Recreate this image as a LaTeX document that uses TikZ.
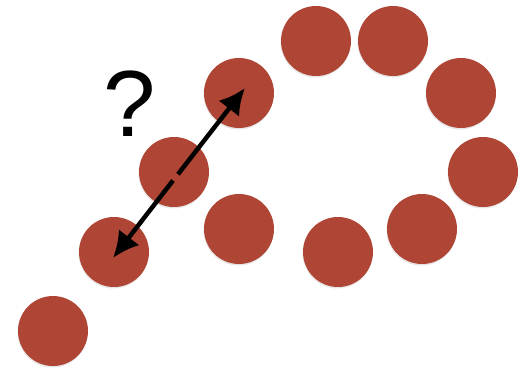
\documentclass[tikz,border=0pt]{standalone}
\usepackage{fontspec}
\setmainfont{Liberation Sans}
\usetikzlibrary{positioning, arrows.meta, shadows}
\definecolor{beadred}{HTML}{AF4534}

\begin{document}
\begin{tikzpicture}[x=1pt,y=-1pt,
    bead/.style={circle, fill=beadred, minimum size=70pt, inner sep=0pt,
      drop shadow={shadow xshift=-0.5pt, shadow yshift=-1.5pt, opacity=0.2}},
    jump/.style={-{Latex[length=26pt,width=26pt]}, line width=4.5pt}]
    \useasboundingbox (0,0) rectangle (518,369);
    % chain of beads
    \node[bead] (b_1) at (53,331) {};
    \node[bead] (b_2) at (114,252) {};
    \node[bead] (b_3) at (174,172) {};
    \node[bead] (b_4) at (239,93) {};
    \node[bead] (b_5) at (239,229) {};
    \node[bead] (b_6) at (316,41) {};
    \node[bead] (b_7) at (393,41) {};
    \node[bead] (b_8) at (461,93) {};
    \node[bead] (b_9) at (483,172) {};
    \node[bead] (b_10) at (422,229) {};
    \node[bead] (b_11) at (338,252) {};

    \node (q) at (130,104) {\fontsize{94}{94}\selectfont ?};

    \coordinate (g_1) at (173,180.5);
    \coordinate (g_2) at (178,174.2);
    \coordinate (t_1) at (113,258);
    \coordinate (t_2) at (245,88);
    \draw[jump] (g_1) -- (t_1);
    \draw[jump] (g_2) -- (t_2);
\end{tikzpicture}
\end{document}
